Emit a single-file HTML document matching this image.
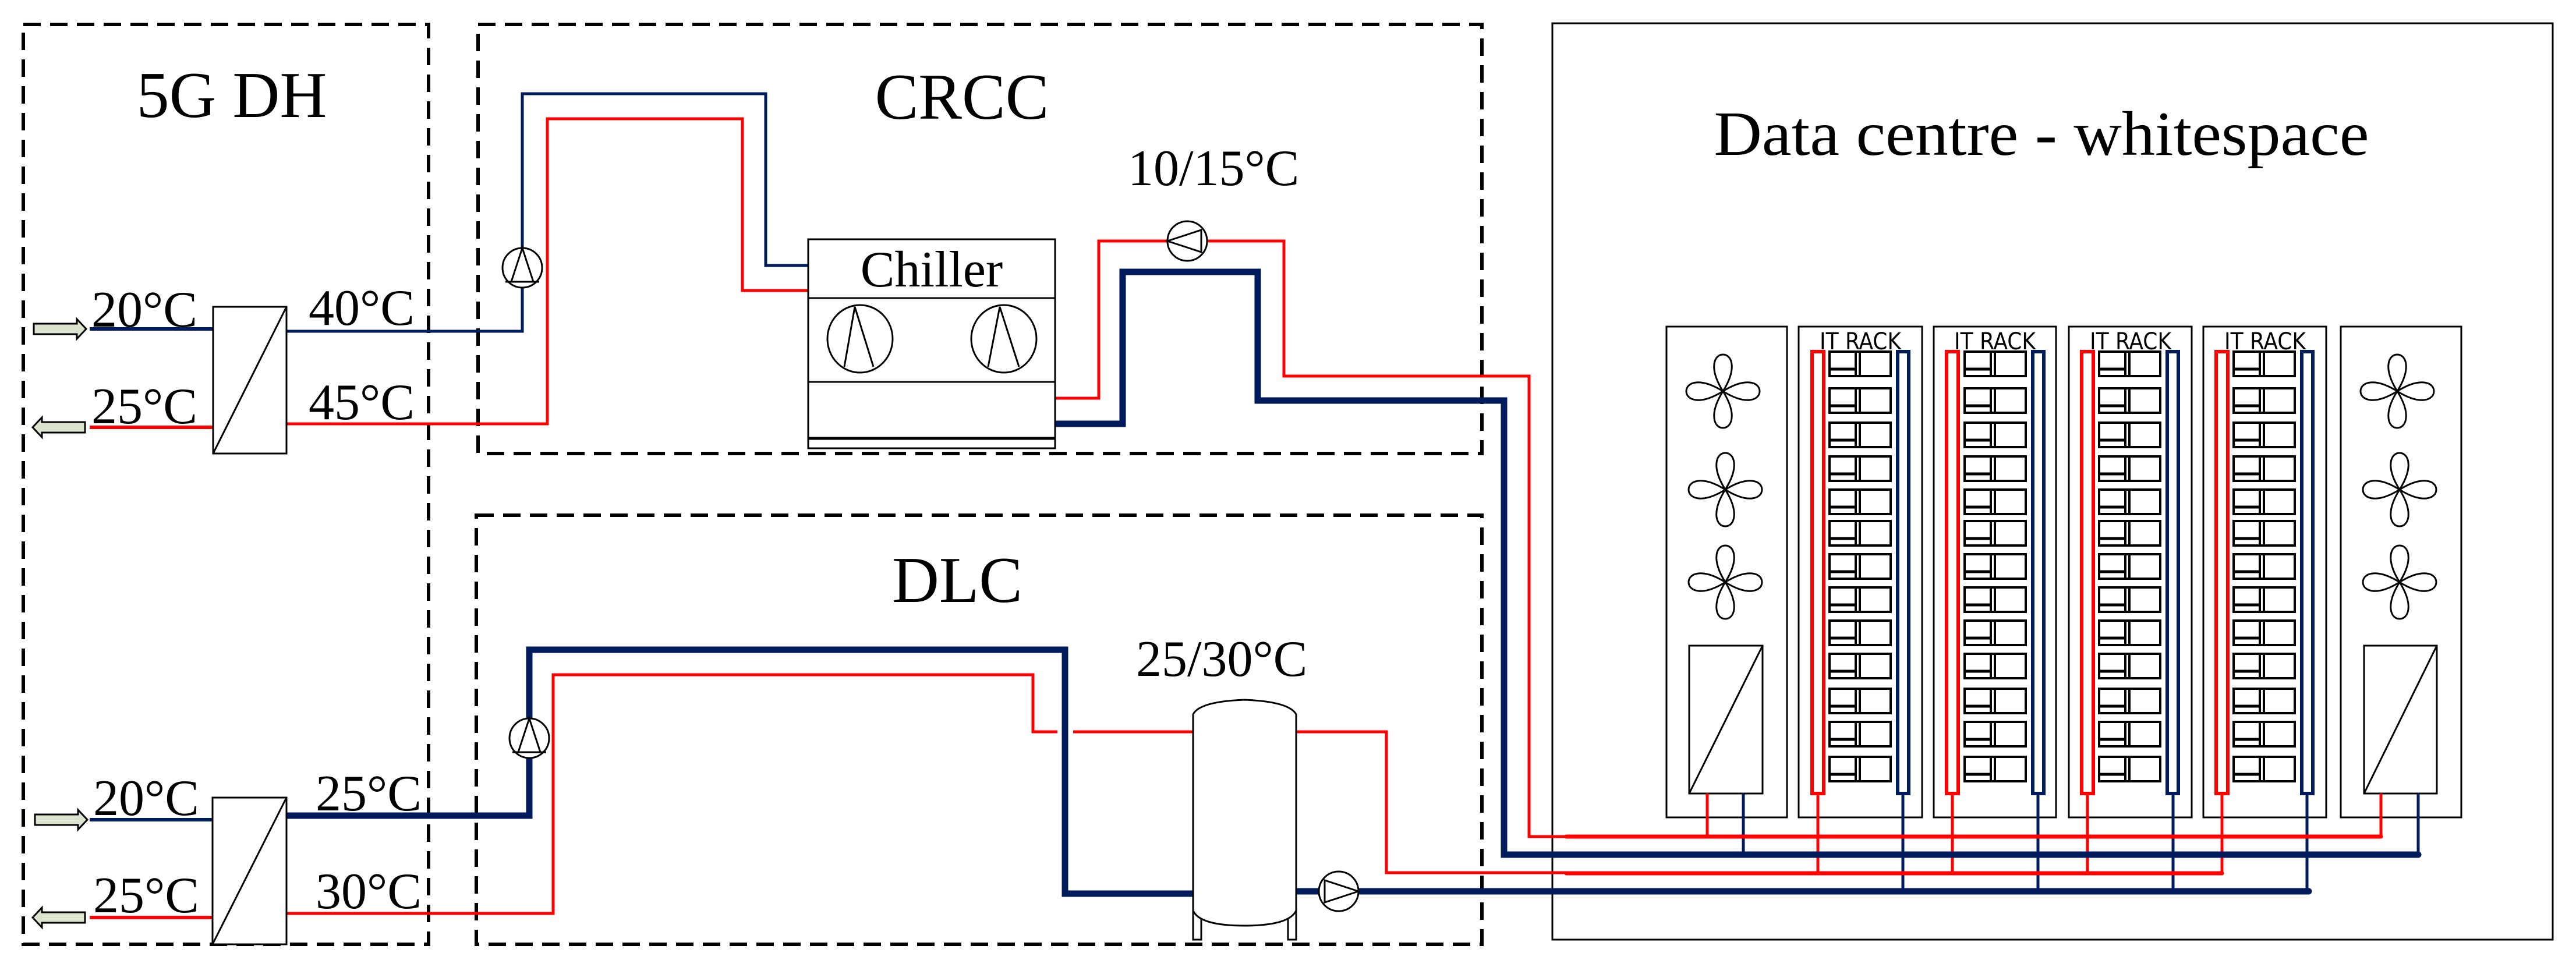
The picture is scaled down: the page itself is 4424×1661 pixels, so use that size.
<!DOCTYPE html>
<html><head><meta charset="utf-8"><style>
html,body{margin:0;padding:0;background:#fff}
svg{display:block}
text{font-family:"Liberation Serif",serif;fill:#000}
.s{font-family:"DejaVu Sans Condensed","DejaVu Sans","Liberation Sans",sans-serif}
</style></head><body>
<svg width="4424" height="1661" viewBox="0 0 4424 1661" xmlns="http://www.w3.org/2000/svg">
<defs>
<g id="fan" fill="none" stroke="#000" stroke-width="3">
<path d="M0 0 C-25 -40 -15 -63 0 -63 C15 -63 25 -40 0 0 Z"/>
<path d="M0 0 C-25 40 -15 63 0 63 C15 63 25 40 0 0 Z"/>
<path d="M0 0 C-40 -25 -63 -15 -63 0 C-63 15 -40 25 0 0 Z"/>
<path d="M0 0 C40 -25 63 -15 63 0 C63 15 40 25 0 0 Z"/>
</g>
<g id="srv" fill="none" stroke="#000">
<rect x="0" y="0" width="105" height="42" stroke-width="4"/>
<line x1="52" y1="0" x2="52" y2="42" stroke-width="4"/>
<line x1="45" y1="2" x2="45" y2="40" stroke-width="4"/>
<line x1="2" y1="30" x2="45" y2="30" stroke-width="5"/>
</g>
</defs>

<!-- dashed boxes -->
<g fill="none" stroke="#000" stroke-width="6" stroke-dasharray="30 16">
<rect x="40" y="42" width="696" height="1580"/>
<rect x="821" y="42" width="1724" height="737"/>
<rect x="818" y="885" width="1727" height="737"/>
</g>
<!-- data centre box -->
<rect x="2666" y="40" width="1718" height="1574" fill="none" stroke="#000" stroke-width="3"/>

<!-- labels -->
<text x="398" y="201" font-size="112" text-anchor="middle">5G DH</text>
<text x="1652" y="204" font-size="112" text-anchor="middle">CRCC</text>
<text x="1644" y="1034" font-size="112" text-anchor="middle">DLC</text>
<text x="3506" y="266" font-size="108" text-anchor="middle" textLength="1125" lengthAdjust="spacingAndGlyphs">Data centre - whitespace</text>
<g font-size="88">
<text x="157" y="561">20°C</text>
<text x="157" y="727">25°C</text>
<text x="530" y="558">40°C</text>
<text x="530" y="720">45°C</text>
<text x="1937" y="318">10/15°C</text>
<text x="160" y="1400">20°C</text>
<text x="160" y="1567">25°C</text>
<text x="542" y="1392">25°C</text>
<text x="542" y="1560">30°C</text>
<text x="1951" y="1161">25/30°C</text>
</g>

<!-- inlet/outlet arrows -->
<g fill="#dde3cf" stroke="#000" stroke-width="3">
<path d="M58 556 H132 V548 L148 565 L132 582 V574 H58 Z"/>
<path d="M146 725 H72 V717 L56 734 L72 751 V743 H146 Z"/>
<path d="M60 1399 H134 V1391 L150 1408 L134 1425 V1417 H60 Z"/>
<path d="M146 1567 H72 V1559 L56 1576 L72 1593 V1585 H146 Z"/>
</g>

<!-- CRCC pipes -->
<g fill="none" stroke-linejoin="miter">
<line x1="154" y1="565" x2="366" y2="565" stroke="#001c5c" stroke-width="6"/>
<line x1="154" y1="734" x2="366" y2="734" stroke="#ff0000" stroke-width="6"/>
<polyline points="492,569 897,569 897,161 1315,161 1315,456 1388,456" stroke="#001c5c" stroke-width="5"/>
<polyline points="492,728 940,728 940,204 1275,204 1275,499 1388,499" stroke="#ff0000" stroke-width="5"/>
<polyline points="1812,684 1887,684 1887,414 2205,414 2205,646 2626,646 2626,1437 2690,1437" stroke="#ff0000" stroke-width="5"/>
<polyline points="1812,728 1928,728 1928,467 2160,467 2160,688 2583,688 2583,1468 2690,1468" stroke="#001c5c" stroke-width="11"/>
</g>
<!-- DLC pipes -->
<g fill="none">
<line x1="154" y1="1408" x2="365" y2="1408" stroke="#001c5c" stroke-width="6"/>
<line x1="154" y1="1576" x2="365" y2="1576" stroke="#ff0000" stroke-width="6"/>
<polyline points="492,1401 909,1401 909,1116 1829,1116 1829,1535 2049,1535" stroke="#001c5c" stroke-width="11"/>
<polyline points="2226,1531 2690,1531" stroke="#001c5c" stroke-width="11"/>
<polyline points="492,1569 950,1569 950,1159 1774,1159 1774,1257 1816,1257" stroke="#ff0000" stroke-width="5"/>
<polyline points="1843,1257 2049,1257" stroke="#ff0000" stroke-width="5"/>
<polyline points="2226,1257 2381,1257 2381,1499 2690,1499" stroke="#ff0000" stroke-width="5"/>
</g>

<!-- heat exchangers -->
<g fill="#fff" stroke="#000" stroke-width="3">
<rect x="366" y="527" width="126" height="252"/>
<line x1="366" y1="779" x2="492" y2="527"/>
<rect x="365" y="1370" width="127" height="252"/>
<line x1="365" y1="1622" x2="492" y2="1370"/>
</g>

<!-- pumps -->
<g fill="#fff" stroke="#000" stroke-width="3">
<circle cx="897" cy="460" r="34"/>
<path d="M897 426 L878 484 L916 484 Z" fill="none"/>
<line x1="868" y1="484" x2="926" y2="484"/>
<circle cx="909" cy="1268" r="34"/>
<path d="M909 1234 L890 1292 L928 1292 Z" fill="none"/>
<line x1="880" y1="1292" x2="938" y2="1292"/>
<circle cx="2039" cy="414" r="34"/>
<path d="M2005 414 L2063 395 L2063 433 Z" fill="none"/>
<circle cx="2299" cy="1531" r="34"/>
<path d="M2333 1531 L2275 1512 L2275 1550 Z" fill="none"/>
</g>

<!-- chiller -->
<g fill="#fff" stroke="#000" stroke-width="3">
<rect x="1388" y="411" width="424" height="359"/>
<line x1="1388" y1="512" x2="1812" y2="512"/>
<line x1="1388" y1="656" x2="1812" y2="656"/>
<line x1="1388" y1="753" x2="1812" y2="753" stroke-width="5"/>
<ellipse cx="1477" cy="582" rx="56" ry="58"/>
<ellipse cx="1724" cy="582" rx="56" ry="58"/>
<polyline fill="none" points="1450,630 1468,527 1500,630"/>
<polyline fill="none" points="1697,630 1717,527 1750,630"/>
</g>
<text x="1600" y="492" font-size="88" text-anchor="middle">Chiller</text>

<!-- tank -->
<g fill="#fff" stroke="#000" stroke-width="3">
<line x1="2056" y1="1564" x2="2056" y2="1614"/>
<line x1="2219" y1="1564" x2="2219" y2="1614"/>
<rect x="2049" y="1564" width="14" height="50"/>
<rect x="2212" y="1564" width="14" height="50"/>
<path d="M2049 1227 Q2060 1205 2137 1202 Q2214 1205 2226 1227 V1564 Q2214 1590 2137 1590 Q2060 1590 2049 1564 Z"/>
</g>

<!-- Data centre -->
<g fill="none" stroke="#000" stroke-width="3">
<rect x="2862" y="561" width="207" height="843"/>
<rect x="3089" y="561" width="212" height="843"/>
<rect x="3321" y="561" width="210" height="843"/>
<rect x="3553" y="561" width="211" height="843"/>
<rect x="3784" y="561" width="211" height="843"/>
<rect x="4020" y="561" width="207" height="843"/>
<rect x="2901" y="1109" width="126" height="254"/>
<line x1="2901" y1="1363" x2="3027" y2="1109"/>
<rect x="4060" y="1109" width="125" height="254"/>
<line x1="4060" y1="1363" x2="4185" y2="1109"/>
</g>
<use href="#fan" x="2959" y="672"/>
<use href="#fan" x="2963" y="841"/>
<use href="#fan" x="2963" y="1000"/>
<use href="#fan" x="4117" y="672"/>
<use href="#fan" x="4121" y="841"/>
<use href="#fan" x="4121" y="1000"/>

<g font-size="40" class="s" text-anchor="middle">
<text class="s" x="3195" y="600">IT RACK</text>
<text class="s" x="3426" y="600">IT RACK</text>
<text class="s" x="3659" y="600">IT RACK</text>
<text class="s" x="3890" y="600">IT RACK</text>
</g>

<!-- servers: per rack -->
<g id="rack1">
<use href="#srv" x="3142" y="604"/><use href="#srv" x="3142" y="667"/><use href="#srv" x="3142" y="726"/><use href="#srv" x="3142" y="784"/><use href="#srv" x="3142" y="841"/><use href="#srv" x="3142" y="895"/><use href="#srv" x="3142" y="952"/><use href="#srv" x="3142" y="1009"/><use href="#srv" x="3142" y="1066"/><use href="#srv" x="3142" y="1123"/><use href="#srv" x="3142" y="1183"/><use href="#srv" x="3142" y="1240"/><use href="#srv" x="3142" y="1300"/>
</g>
<use href="#rack1" x="232"/>
<use href="#rack1" x="463"/>
<use href="#rack1" x="694"/>

<!-- rack tubes -->
<g fill="none" stroke-width="6">
<rect x="3112" y="604" width="20" height="759" stroke="#ff0000"/>
<rect x="3259" y="604" width="19" height="759" stroke="#001c5c"/>
<rect x="3343" y="604" width="20" height="759" stroke="#ff0000"/>
<rect x="3491" y="604" width="19" height="759" stroke="#001c5c"/>
<rect x="3575" y="604" width="20" height="759" stroke="#ff0000"/>
<rect x="3722" y="604" width="19" height="759" stroke="#001c5c"/>
<rect x="3806" y="604" width="20" height="759" stroke="#ff0000"/>
<rect x="3953" y="604" width="19" height="759" stroke="#001c5c"/>
</g>

<!-- drops & headers -->
<g fill="none" stroke-width="5">
<g stroke="#ff0000">
<line x1="2932" y1="1363" x2="2932" y2="1437"/>
<line x1="4089" y1="1363" x2="4089" y2="1437"/>
<line x1="3122" y1="1363" x2="3122" y2="1500"/>
<line x1="3353" y1="1363" x2="3353" y2="1500"/>
<line x1="3585" y1="1363" x2="3585" y2="1500"/>
<line x1="3816" y1="1363" x2="3816" y2="1500"/>
</g>
<g stroke="#001c5c">
<line x1="2994" y1="1363" x2="2994" y2="1468"/>
<line x1="4153" y1="1363" x2="4153" y2="1468"/>
<line x1="3268" y1="1363" x2="3268" y2="1531"/>
<line x1="3500" y1="1363" x2="3500" y2="1531"/>
<line x1="3732" y1="1363" x2="3732" y2="1531"/>
<line x1="3962" y1="1363" x2="3962" y2="1531"/>
</g>
</g>
<g fill="none" stroke-linecap="round">
<line x1="2690" y1="1437" x2="4089" y2="1437" stroke="#ff0000" stroke-width="7"/>
<line x1="2690" y1="1468" x2="4153" y2="1468" stroke="#001c5c" stroke-width="11"/>
<line x1="2690" y1="1500" x2="3816" y2="1500" stroke="#ff0000" stroke-width="7"/>
<line x1="2690" y1="1531" x2="3965" y2="1531" stroke="#001c5c" stroke-width="11"/>
</g>
</svg>
</body></html>
